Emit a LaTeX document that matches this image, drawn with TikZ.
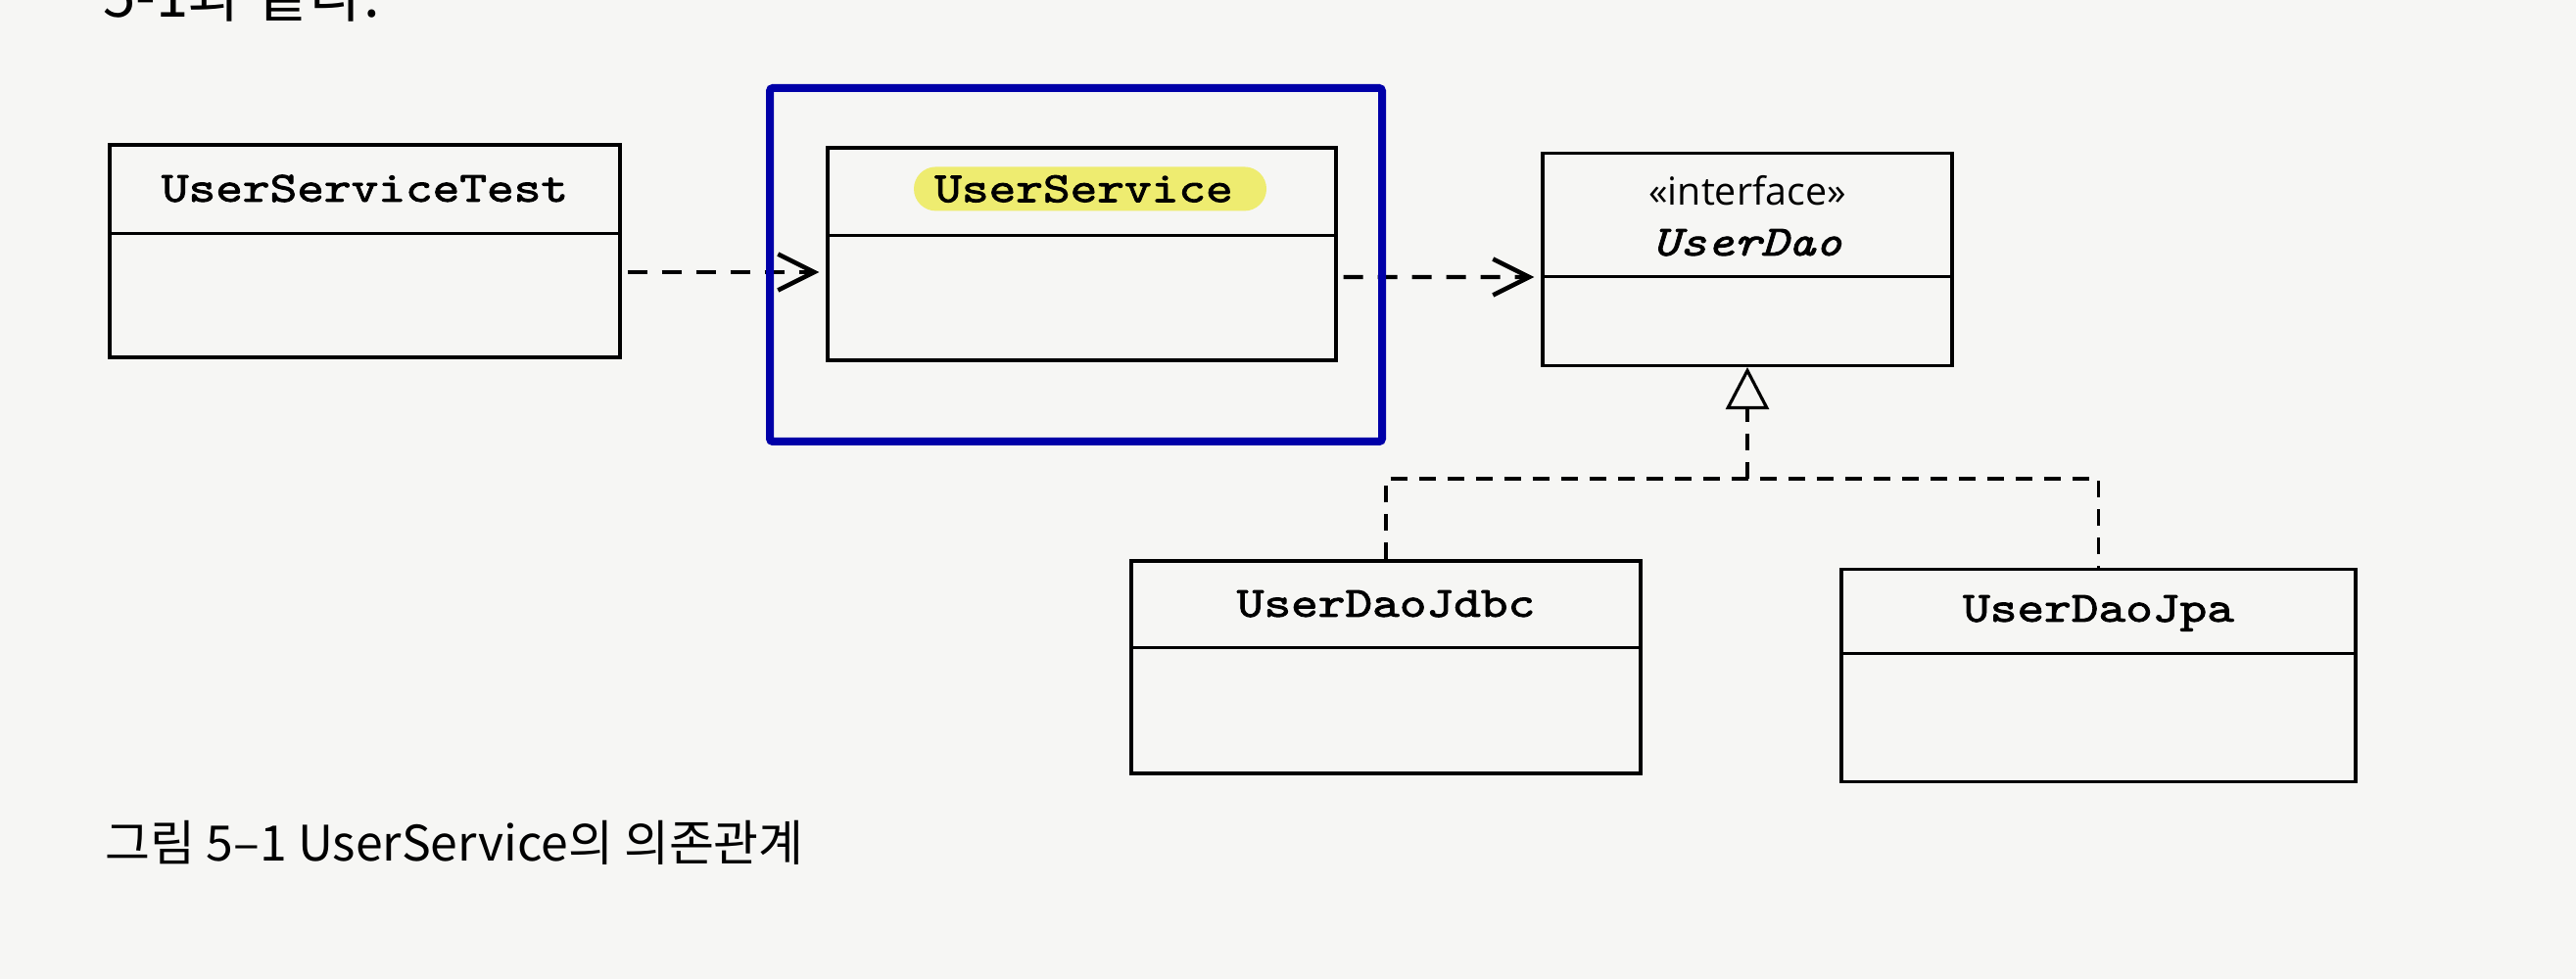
\documentclass[tikz,border=0pt]{standalone}
\usepackage{fontspec}
\newfontfamily\umlfont{lmmono10-regular.otf}[ItalicFont=lmmono10-italic.otf, FakeBold=2, FakeStretch=1.2]
\newfontfamily\stereofont{Open Sans}
\newfontfamily\cjk{Noto Sans CJK KR}
\usetikzlibrary{arrows.meta, positioning}
\definecolor{paper}{RGB}{246,246,244}
\definecolor{focusblue}{RGB}{0,0,168}
\definecolor{marker}{RGB}{238,236,112}

\begin{document}
\begin{tikzpicture}
	[%
	cls/.style ={rectangle,	draw=black,	line width=0.9pt,	inner sep=0pt,	minimum height=2.17cm},%
	title/.style ={font=\umlfont\fontsize{12.5}{15}\selectfont,	inner sep=0pt,	anchor=base},%
	marker/.style ={fill=marker,	rounded corners=0.225cm,	minimum width=3.6cm,	minimum height=0.45cm,	inner sep=0pt},%
	dep/.style ={dash pattern=on 0.2cm off 0.15cm,	line width=1.2pt,	shorten <=0.06cm,	shorten >=0.07cm,	-{Straight Barb[length=3.7mm,width=3.7mm,line width=1.3pt]}},%
	real/.style ={dash pattern=on 0.17cm off 0.12cm,	line width=0.9pt},%
	]

	\useasboundingbox (0,0) rectangle (26.3,-10);
	\fill [paper] (0,0) rectangle (26.3,-10);

	% text of the page
	\node (lead) at (1.05,-0.18) [anchor=base west, inner sep=0pt, font=\cjk\fontsize{17}{20}\selectfont] {5-1과 같다.};

	% nodes
	% classes: name/x/y/width/divider
	\foreach \n/\x/\y/\w/\d in {	test/3.725/-2.565/5.21/0.92, service/11.045/-2.595/5.19/0.91, dao/17.84/-2.65/4.18/1.28, %
												jdbc/14.15/-6.815/5.20/0.90, jpa/21.425/-6.90/5.25/0.88}
	{
		\node (\n) at (\x,\y) [cls, minimum width=\w cm] {};
		\draw [line width=0.9pt] ([yshift=-\d cm]\n.north west) -- ([yshift=-\d cm]\n.north east);
	}

	% class names
	\foreach \n/\t/\d in {test/UserServiceTest/0.595, jdbc/UserDaoJdbc/0.585, jpa/UserDaoJpa/0.55}
		\node (label\n) at ([yshift=-\d cm]\n.north) [title] {\t};

	\node (mark) at ([xshift=0.085cm,yshift=-0.435cm]service.north) [marker] {};
	\node (labelservice) at ([xshift=0.02cm,yshift=-0.435cm]service.north) [title, anchor=center] {UserService};

	\node (stereodao) at ([yshift=-0.40cm]dao.north) [inner sep=0pt, font=\stereofont\fontsize{11.2}{13}\selectfont] {«interface»};
	\node (labeldao) at ([yshift=-1.06cm]dao.north) [title] {\itshape UserDao};

	% dependencies
	\draw [dep] ([yshift=-0.215cm]test.east) -- ([yshift=-0.185cm]service.west);
	\draw [dep] ([yshift=-0.235cm]service.east) -- ([yshift=-0.18cm]dao.west);

	% realization
	\coordinate (fork) at ([yshift=-1.14cm]dao.south);
	\draw [real] (jdbc.north) |- (fork) -| (jpa.north);
	\draw [real, -{Triangle[open, length=4.3mm, width=4.4mm, line width=0.9pt]}] (fork) -- (dao.south);

	% focus frame
	\draw [draw=focusblue, line width=0.08cm, rounded corners=0.03cm] (7.86,-0.90) rectangle (14.11,-4.51);

	% caption
	\node (caption) at (1.07,-8.80) [anchor=base west, inner sep=0pt, font=\cjk\fontsize{14.2}{17}\selectfont] {그림 5–1 UserService의 의존관계};

\end{tikzpicture}
\end{document}
